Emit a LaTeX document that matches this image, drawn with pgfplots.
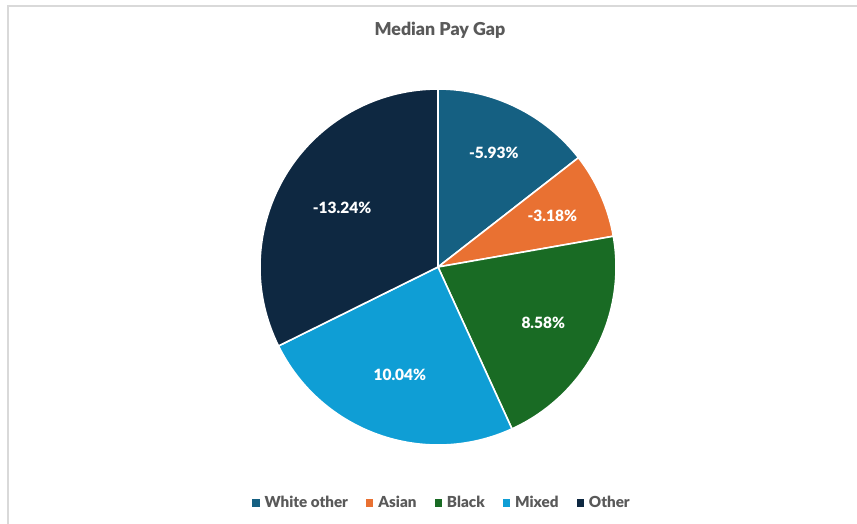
\documentclass[border=0pt]{standalone}
\usepackage{pgfplots}
\usepackage{pgfplotstable}
\pgfplotsset{compat=1.18}
\usepackage{fontspec}
\setmainfont{Lato}
\newfontfamily\heavy{Lato Black}

\definecolor{cWhiteOther}{HTML}{156082}
\definecolor{cAsian}{HTML}{E97132}
\definecolor{cBlack}{HTML}{196B24}
\definecolor{cMixed}{HTML}{0F9ED5}
\definecolor{cOther}{HTML}{0E2841}
\definecolor{txtgray}{HTML}{595959}
\definecolor{framegray}{HTML}{D9D9D9}

% median pay gap by group (%)
\pgfplotstableread{
group value
WhiteOther -5.93
Asian -3.18
Black 8.58
Mixed 10.04
Other -13.24
}\paygap

\pgfplotstablegetelem{0}{value}\of\paygap \let\vA\pgfplotsretval
\pgfplotstablegetelem{1}{value}\of\paygap \let\vB\pgfplotsretval
\pgfplotstablegetelem{2}{value}\of\paygap \let\vC\pgfplotsretval
\pgfplotstablegetelem{3}{value}\of\paygap \let\vD\pgfplotsretval
\pgfplotstablegetelem{4}{value}\of\paygap \let\vE\pgfplotsretval

% slice angles, clockwise from 12 o'clock, sized by |value|
\pgfmathsetmacro\tot{abs(\vA)+abs(\vB)+abs(\vC)+abs(\vD)+abs(\vE)}
\pgfmathsetmacro\aA{90}
\pgfmathsetmacro\aB{\aA-360*abs(\vA)/\tot}
\pgfmathsetmacro\aC{\aB-360*abs(\vB)/\tot}
\pgfmathsetmacro\aD{\aC-360*abs(\vC)/\tot}
\pgfmathsetmacro\aE{\aD-360*abs(\vD)/\tot}
\pgfmathsetmacro\aF{\aE-360*abs(\vE)/\tot}

\newcommand{\slice}[3]{%
  \fill[#3, draw=white, line width=1.6pt, line join=round]
    (axis cs:438,257) -- ++(#1:178pt) arc[start angle=#1, end angle=#2, radius=178pt] -- cycle;}
% #4 = label distance from the centre
\newcommand{\slicelabel}[4]{%
  \path (axis cs:438,257) ++({(#1+#2)/2}:#4)
    node[text=white, font=\fontsize{15.5}{17}\selectfont\heavy]
    {\pgfmathprintnumber[fixed, precision=2, fixed zerofill, assume math mode=true]{#3}\%};}

\begin{document}
\begin{tikzpicture}
\begin{axis}[
  width=857pt, height=524pt, scale only axis,
  xmin=0, xmax=857, ymin=0, ymax=524,
  hide axis, clip=false,
  legend columns=-1,
  legend style={at={(axis cs:442,21)}, anchor=center, draw=none, fill=none,
    font=\fontsize{15.2}{17}\selectfont\heavy, text=txtgray,
    /tikz/every odd column/.append style={column sep=3pt},
    /tikz/every even column/.append style={column sep=16pt}},
  legend image code/.code={\fill[#1, draw=none] (0pt,-3.7pt) rectangle (7.4pt,3.7pt);},
]
\draw[framegray, line width=1.2pt] (axis cs:8,0) -- (axis cs:8,518) -- (axis cs:857,518);
\node[text=txtgray, font=\fontsize{17.8}{20}\selectfont\heavy] at (axis cs:440,494) {Median Pay Gap};

\slice{\aA}{\aB}{cWhiteOther}
\slice{\aB}{\aC}{cAsian}
\slice{\aC}{\aD}{cBlack}
\slice{\aD}{\aE}{cMixed}
\slice{\aE}{\aF}{cOther}

\slicelabel{\aA}{\aB}{\vA}{127pt}
\slicelabel{\aB}{\aC}{\vB}{125pt}
\slicelabel{\aC}{\aD}{\vC}{119pt}
\slicelabel{\aD}{\aE}{\vD}{114pt}
\slicelabel{\aE}{\aF}{\vE}{113pt}

\addlegendimage{fill=cWhiteOther}\addlegendentry{White other}
\addlegendimage{fill=cAsian}\addlegendentry{Asian}
\addlegendimage{fill=cBlack}\addlegendentry{Black}
\addlegendimage{fill=cMixed}\addlegendentry{Mixed}
\addlegendimage{fill=cOther}\addlegendentry{Other}
\end{axis}
\pgfresetboundingbox
\path (0,0) rectangle (857pt,524pt);
\end{tikzpicture}
\end{document}
